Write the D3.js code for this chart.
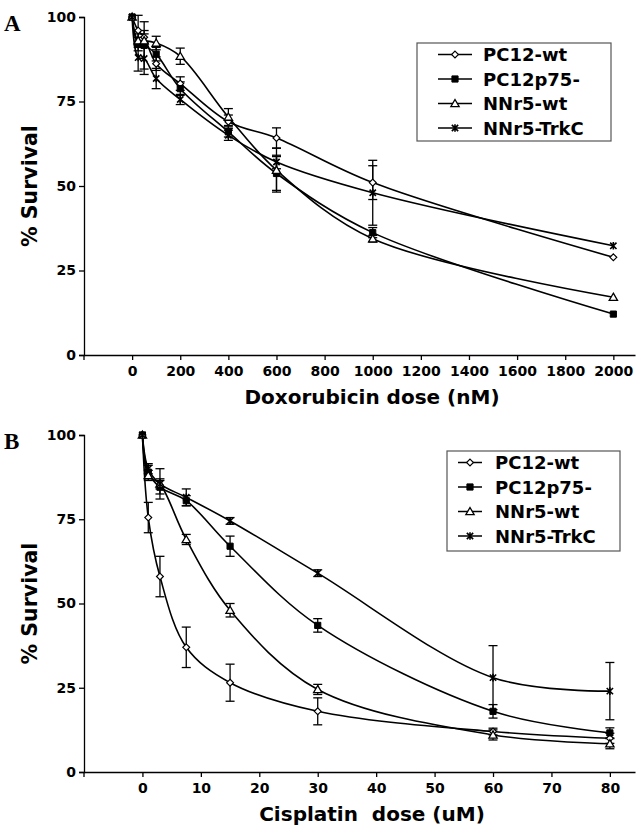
<!DOCTYPE html>
<html>
<head>
<meta charset="utf-8">
<script src="https://cdn.jsdelivr.net/npm/d3@7"></script>
<style>
  body { margin: 0; background: #fff; }
  svg { display: block; }
  text { font-family: "DejaVu Sans", Verdana, sans-serif; font-weight: bold; fill: #000; white-space: pre; }
</style>
</head>
<body>
<div id="chart"></div>
<script>
// series names
var seriesNames = ['PC12-wt', 'PC12p75-', 'NNr5-wt', 'NNr5-TrkC'];
var symbolKinds = ['diamond', 'square', 'triangle', 'star'];

// panel A - doxorubicin
var doxDose = [0, 25, 50, 100, 200, 400, 600, 1000, 2000];
var doxPC12wt  = [100, 96, 94, 86.2, 80.3, 69, 64.2, 51, 28.9];
var doxPC12p75 = [100, 92, 91.6, 89, 78.8, 66, 53.7, 36.2, 12.1];
var doxNNr5wt  = [100, 93, 93, 92.3, 88.4, 70.4, 54.7, 34.4, 17.1];
var doxTrkC    = [100, 88, 87.7, 81.8, 75.6, 65, 57.1, 48, 32.3];
var doxErrPC12wt  = [0, 4.5, 2, 2, 2, 2, 3, 5, 0.5];
var doxErrPC12p75 = [0, 2, 7, 2, 2, 1.5, 5, 1.5, 0.5];
var doxErrNNr5wt  = [0, 2, 2, 2, 2.4, 2.5, 6.5, 1, 0.5];
var doxErrTrkC    = [0, 4, 4.7, 3, 1.5, 1.5, 2, 9.6, 0.5];
var doxTicks = [0, 200, 400, 600, 800, 1000, 1200, 1400, 1600, 1800, 2000];

// panel B - cisplatin
var cisDose = [0, 1, 3, 7.5, 15, 30, 60, 80];
var cisPC12wt  = [100, 75.5, 58, 37, 26.5, 18, 12, 10];
var cisPC12p75 = [100, 89, 84.5, 80.5, 67, 43.5, 18, 11.6];
var cisNNr5wt  = [100, 88, 85.5, 69, 48, 24.5, 11, 8.4];
var cisTrkC    = [100, 90, 85.5, 81.5, 74.5, 59, 28, 24];
var cisErrPC12wt  = [0, 4.5, 6, 6, 5.5, 4, 1, 1.5];
var cisErrPC12p75 = [0, 2, 2, 1.5, 3, 2, 2, 1.5];
var cisErrNNr5wt  = [0, 1.5, 1.5, 1.5, 2, 1.5, 1.5, 1.5];
var cisErrTrkC    = [0, 1.5, 4.5, 2.5, 1, 1, 9.5, 8.5];
var cisTicks = [0, 10, 20, 30, 40, 50, 60, 70, 80];

var yTicks = [0, 25, 50, 75, 100];

var W = 643, H = 828;
var svg = d3.select('#chart').append('svg').attr('width', W).attr('height', H);

// asterisk symbol: X with a vertical bar
var starSym = {
  draw: function(ctx, size) {
    var r = Math.sqrt(size) / 2;
    ctx.moveTo(-r, -r); ctx.lineTo(r, r);
    ctx.moveTo(r, -r); ctx.lineTo(-r, r);
    ctx.moveTo(0, -r * 1.2); ctx.lineTo(0, r * 1.2);
  }
};

function drawMarker(g, kind, x, y) {
  if (kind == 'diamond') {
    g.append('path').attr('d', d3.symbol(d3.symbolDiamond2, 30)())
      .attr('transform', 'translate(' + x + ',' + y + ')')
      .attr('fill', '#fff').attr('stroke', '#000').attr('stroke-width', 1.2);
  } else if (kind == 'square') {
    g.append('path').attr('d', d3.symbol(d3.symbolSquare, 38)())
      .attr('transform', 'translate(' + x + ',' + y + ')')
      .attr('fill', '#000').attr('stroke', '#000').attr('stroke-width', 1);
  } else if (kind == 'triangle') {
    g.append('path').attr('d', d3.symbol(d3.symbolTriangle, 30)())
      .attr('transform', 'translate(' + x + ',' + (y + 0.8) + ')')
      .attr('fill', '#fff').attr('stroke', '#000').attr('stroke-width', 1.3);
  } else {
    g.append('path').attr('d', d3.symbol(starSym, 40)())
      .attr('transform', 'translate(' + x + ',' + y + ')')
      .attr('fill', 'none').attr('stroke', '#000').attr('stroke-width', 1.6);
  }
}

function panel(opt) {
  var x = d3.scaleLinear().domain(opt.xDomain).range([84, 635]);
  var y = d3.scaleLinear().domain([0, 100]).range([opt.y0, opt.y100]);
  var g = svg.append('g');

  // y axis
  var yAxis = d3.axisLeft(y).tickValues(yTicks).tickSize(5).tickPadding(3);
  g.append('g').attr('transform', 'translate(' + x(opt.xDomain[0]) + ',0)')
    .call(yAxis)
    .call(a => a.selectAll('text').style('font-size', '14px'))
    .call(a => a.selectAll('line, path').attr('stroke', '#000').attr('stroke-width', 1.3));

  // x axis
  var xAxis = d3.axisBottom(x).tickValues(opt.ticks).tickFormat(d3.format('d'))
    .tickSize(5).tickPadding(6).tickSizeOuter(0);
  g.append('g').attr('transform', 'translate(0,' + opt.y0 + ')')
    .call(xAxis)
    .call(a => a.selectAll('text').style('font-size', '14px'))
    .call(a => a.selectAll('line, path').attr('stroke', '#000').attr('stroke-width', 1.3));
  g.append('line').attr('x1', x(opt.xDomain[0])).attr('x2', x(opt.xDomain[0]))
    .attr('y1', opt.y0).attr('y2', opt.y0 + 5).attr('stroke', '#000').attr('stroke-width', 1.3);

  // titles
  g.append('text').attr('x', 372).attr('y', opt.y0 + 49).attr('text-anchor', 'middle')
    .style('font-size', '20px').text(opt.xTitle);
  g.append('text').attr('transform', 'translate(37,' + ((opt.y0 + opt.y100) / 2) + ') rotate(-90)')
    .attr('text-anchor', 'middle').style('font-size', '20.5px').text('% Survival');
  g.append('text').attr('x', 4).attr('y', opt.y100 + 14)
    .style('font-family', '"Liberation Serif", serif').style('font-size', '23px').text(opt.letter);

  var line = d3.line().x(d => x(d[0])).y(d => y(d[1])).curve(d3.curveCatmullRom.alpha(0.5));

  opt.series.forEach(function(vals, si) {
    var pts = opt.dose.map((d, i) => [d, vals[i]]);
    g.append('path').datum(pts).attr('d', line)
      .attr('fill', 'none').attr('stroke', '#000').attr('stroke-width', 1.6);
  });

  // error bars
  opt.series.forEach(function(vals, si) {
    var err = opt.errs[si];
    opt.dose.forEach(function(d, i) {
      if (err[i] <= 0.6) return;
      var cx = x(d), top = y(vals[i] + err[i]), bot = y(vals[i] - err[i]);
      g.append('line').attr('x1', cx).attr('x2', cx).attr('y1', top).attr('y2', bot)
        .attr('stroke', '#000').attr('stroke-width', 1.3);
      [top, bot].forEach(function(yy) {
        g.append('line').attr('x1', cx - 4.5).attr('x2', cx + 4.5).attr('y1', yy).attr('y2', yy)
          .attr('stroke', '#000').attr('stroke-width', 1.3);
      });
    });
  });

  // markers
  opt.series.forEach(function(vals, si) {
    opt.dose.forEach(function(d, i) {
      drawMarker(g, symbolKinds[si], x(d), y(vals[i]));
    });
  });

  // legend
  var L = opt.legend;
  g.append('rect').attr('x', L.x).attr('y', L.y).attr('width', L.w).attr('height', L.h)
    .attr('fill', '#fff').attr('stroke', '#555').attr('stroke-width', 1.2);
  seriesNames.forEach(function(name, i) {
    var ly = L.y + 11.5 + i * 24.5;
    g.append('line').attr('x1', L.lx1).attr('x2', L.lx2).attr('y1', ly).attr('y2', ly)
      .attr('stroke', '#000').attr('stroke-width', 1.5);
    drawMarker(g, symbolKinds[i], (L.lx1 + L.lx2) / 2, ly);
    g.append('text').attr('x', L.tx).attr('y', ly + 6.5).style('font-size', '18px').text(name);
  });
}

panel({
  letter: 'A', xDomain: [-200, 2090], ticks: doxTicks, y0: 355, y100: 17,
  dose: doxDose, xTitle: 'Doxorubicin dose (nM)',
  series: [doxPC12wt, doxPC12p75, doxNNr5wt, doxTrkC],
  errs: [doxErrPC12wt, doxErrPC12p75, doxErrNNr5wt, doxErrTrkC],
  legend: { x: 417, y: 43, w: 194, h: 98, lx1: 438, lx2: 472, tx: 483 }
});

panel({
  letter: 'B', xDomain: [-10, 84.3], ticks: cisTicks, y0: 772, y100: 435,
  dose: cisDose, xTitle: 'Cisplatin  dose (uM)',
  series: [cisPC12wt, cisPC12p75, cisNNr5wt, cisTrkC],
  errs: [cisErrPC12wt, cisErrPC12p75, cisErrNNr5wt, cisErrTrkC],
  legend: { x: 447, y: 451, w: 173, h: 100, lx1: 458, lx2: 482, tx: 495 }
});
</script>
</body>
</html>
